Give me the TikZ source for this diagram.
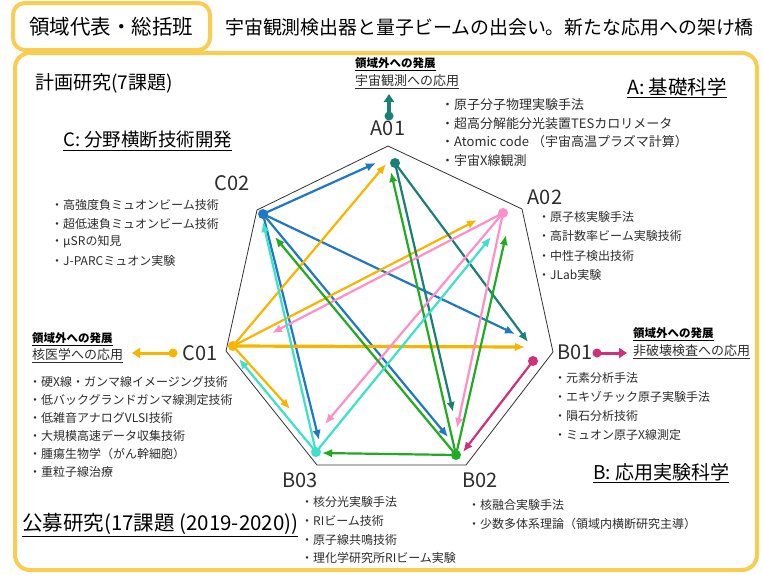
\documentclass[tikz,border=0pt]{standalone}
\usepackage{fontspec}
\setmainfont{Noto Sans CJK JP}
\usetikzlibrary{arrows.meta}
\definecolor{cblue}{RGB}{31,120,193}
\definecolor{corange}{RGB}{247,181,0}
\definecolor{cteal}{RGB}{26,127,116}
\definecolor{cpink}{RGB}{255,143,200}
\definecolor{cgreen}{RGB}{34,170,34}
\definecolor{ccyan}{RGB}{61,224,200}
\definecolor{cmag}{RGB}{208,48,122}
\definecolor{cframe}{RGB}{249,205,82}
\definecolor{ctext}{RGB}{45,45,45}
\pgfdeclarelayer{background}
\pgfsetlayers{background,main}
\begin{document}
\begin{tikzpicture}[x=1pt,y=-1pt,
  item/.style={anchor=west, inner sep=0pt, font=\fontsize{12}{14}\selectfont, text=ctext},
  lab/.style={inner sep=0pt, font=\fontsize{20}{24}\selectfont, text=ctext},
  head/.style={anchor=west, inner sep=0pt, font=\fontsize{19.5}{23}\selectfont, text=black},
  outsmall/.style={anchor=west, inner sep=0pt, font=\bfseries\fontsize{11.5}{13}\selectfont, text=black},
  outapp/.style={anchor=west, inner sep=0pt, font=\fontsize{13}{15}\selectfont, text=ctext},
  dot/.style={circle, inner sep=0pt, minimum size=10pt},
  arr/.style={line width=2.2pt, -{Latex[length=10pt,width=8.5pt]}},
  outarr/.style={line width=3.5pt, -{Triangle[length=8pt,width=10pt]}},
  frame/.style={draw=cframe, line width=4pt}]
\useasboundingbox (0,0) rectangle (763,574);
\begin{pgfonlayer}{background}
\fill[white] (0,0) rectangle (763,574);
\draw[frame, rounded corners=15pt] (15,53) rectangle (757,570);
\draw[frame, fill=white, rounded corners=12pt] (13,3) rectangle (210,50);
\draw[black!80, line width=0.8pt] (388,146) -- (522,209) -- (553,352) -- (466,465) -- (317,465) -- (226,351) -- (257,210) -- cycle;
\end{pgfonlayer}

% title
\node[inner sep=0pt, font=\fontsize{20.5}{24}\selectfont] (ttl) at (111,27) {領域代表・総括班};
\node[anchor=west, inner sep=0pt, font=\fontsize{18.9}{22}\selectfont] (sub) at (225,27) {宇宙観測検出器と量子ビームの出会い。新たな応用への架け橋};

% headings
\node[anchor=west, inner sep=0pt, font=\fontsize{19}{22}\selectfont] (plan) at (35,83) {計画研究(7課題)};
\node[head, font=\fontsize{18.5}{22}\selectfont] (hC) at (63,141) {\underline{C: 分野横断技術開発}};
\node[head] (hA) at (627,88) {\underline{A: 基礎科学}};
\node[head, font=\fontsize{19}{22}\selectfont] (hB) at (593,473) {\underline{B: 応用実験科学}};
\node[head, font=\fontsize{20.5}{24}\selectfont] (koubo) at (22,525) {\underline{公募研究(17課題 (2019-2020))}};

% dots
\node[dot, fill=cteal] (A01) at (395,163) {};
\node[dot, fill=cpink] (A02) at (503,213) {};
\node[dot, fill=cmag] (B01) at (533,361) {};
\node[dot, fill=cgreen] (B02) at (456,455) {};
\node[dot, fill=ccyan] (B03) at (316,452) {};
\node[dot, fill=corange] (C01) at (233,346) {};
\node[dot, fill=cblue] (C02) at (263,214) {};

% labels
\node[lab] (lA01) at (388,128) {A01};
\node[lab] (lA02) at (545,197) {A02};
\node[lab] (lB01) at (575,352) {B01};
\node[lab] (lB02) at (480,480) {B02};
\node[lab] (lB03) at (300,480) {B03};
\node[lab] (lC01) at (200,353) {C01};
\node[lab] (lC02) at (232,183) {C02};

% tips
\coordinate (t1) at (376,163);
\coordinate (t2) at (515,334);
\coordinate (t3) at (448,437);
\coordinate (t4) at (319,440);
\coordinate (t5) at (386,164);
\coordinate (t6) at (477,220);
\coordinate (t7) at (525,347);
\coordinate (t8) at (290,409);
\coordinate (t9) at (528,342);
\coordinate (t10) at (453,412);
\coordinate (t11) at (272,333);
\coordinate (t12) at (325,424);
\coordinate (t13) at (457,428);
\coordinate (t14) at (391,172);
\coordinate (t15) at (506,235);
\coordinate (t16) at (275,237);
\coordinate (t17) at (322,453);
\coordinate (t18) at (263,222);
\coordinate (t19) at (491,237);
\coordinate (t20) at (239,359);
\coordinate (t21) at (463,452);

\begin{pgfonlayer}{background}
\draw[arr, cblue] (C02.center) -- (t1);
\draw[arr, cblue] (C02.center) -- (t2);
\draw[arr, cblue] (C02.center) -- (t3);
\draw[arr, cblue] (C02.center) -- (t4);
\draw[arr, corange] (C01.center) -- (t5);
\draw[arr, corange] (C01.center) -- (t6);
\draw[arr, corange, line width=3.2pt] (C01.center) -- (t7);
\draw[arr, corange] (C01.center) -- (t8);
\draw[arr, cteal] (A01.center) -- (t9);
\draw[arr, cteal] (A01.center) -- (t10);
\draw[arr, cpink] (A02.center) -- (t11);
\draw[arr, cpink] (A02.center) -- (t12);
\draw[arr, cpink] (A02.center) -- (t13);
\draw[arr, cgreen] (B02.center) -- (t14);
\draw[arr, cgreen] (B02.center) -- (t15);
\draw[arr, cgreen] (B02.center) -- (t16);
\draw[arr, cgreen] (B02.center) -- (t17);
\draw[arr, ccyan] (B03.center) -- (t18);
\draw[arr, ccyan] (B03.center) -- (t19);
\draw[arr, ccyan] (B03.center) -- (t20);
\draw[arr, cmag] (B01.center) -- (t21);
\end{pgfonlayer}

% outward arrows
\node[dot, fill=cteal, minimum size=9pt] (A01o) at (389,116) {};
\coordinate (A01t) at (389,94);
\draw[outarr, cteal] (A01o.center) -- (A01t);
\node[dot, fill=corange, minimum size=9pt] (C01o) at (173,353) {};
\coordinate (C01t) at (132,353);
\draw[outarr, corange, line width=3pt] (C01o.center) -- (C01t);
\node[dot, fill=cmag, minimum size=9pt] (B01o) at (597,353) {};
\coordinate (B01t) at (627,353);
\draw[outarr, cmag, line width=3pt] (B01o.center) -- (B01t);

\node[outsmall] (oA1) at (355,64) {\underline{領域外への発展}};
\node[outapp] (oA2) at (355,82) {\underline{宇宙観測への応用}};
\node[outsmall] (oC1) at (32,339) {\underline{領域外への発展}};
\node[outapp] (oC2) at (32,356) {\underline{核医学への応用}};
\node[outsmall] (oB1) at (633,334) {\underline{領域外への発展}};
\node[outapp] (oB2) at (633,352) {\underline{非破壊検査への応用}};

% lists
\foreach \t [count=\i] in {{・原子分子物理実験手法},{・超高分解能分光装置TESカロリメータ},{・Atomic code （宇宙高温プラズマ計算）},{・宇宙X線観測}}
  \node[item, font=\fontsize{13}{15}\selectfont] (la\i) at (441,{105+(\i-1)*18.5}) {\t};
\foreach \t [count=\i] in {{・原子核実験手法},{・高計数率ビーム実験技術},{・中性子検出技術},{・JLab実験}}
  \node[item] (lb\i) at (538,{217+(\i-1)*19.3}) {\t};
\foreach \t [count=\i] in {{・元素分析手法},{・エキゾチック原子実験手法},{・隕石分析技術},{・ミュオン原子X線測定}}
  \node[item] (lc\i) at (554,{378+(\i-1)*19}) {\t};
\foreach \t [count=\i] in {{・核融合実験手法},{・少数多体系理論（領域内横断研究主導）}}
  \node[item] (ld\i) at (468,{505+(\i-1)*18.5}) {\t};
\foreach \t [count=\i] in {{・核分光実験手法},{・RIビーム技術},{・原子線共鳴技術},{・理化学研究所RIビーム実験}}
  \node[item] (le\i) at (301,{502+(\i-1)*18.8}) {\t};
\foreach \t [count=\i] in {{・硬X線・ガンマ線イメージング技術},{・低バックグランドガンマ線測定技術},{・低雑音アナログVLSI技術},{・大規模高速データ収集技術},{・腫瘍生物学（がん幹細胞）},{・重粒子線治療}}
  \node[item] (lf\i) at (29,{382+(\i-1)*18}) {\t};
\foreach \t [count=\i] in {{・高強度負ミュオンビーム技術},{・超低速負ミュオンビーム技術},{・μSRの知見},{・J-PARCミュオン実験}}
  \node[item] (lg\i) at (51,{205+(\i-1)*18.5}) {\t};
\end{tikzpicture}
\end{document}
